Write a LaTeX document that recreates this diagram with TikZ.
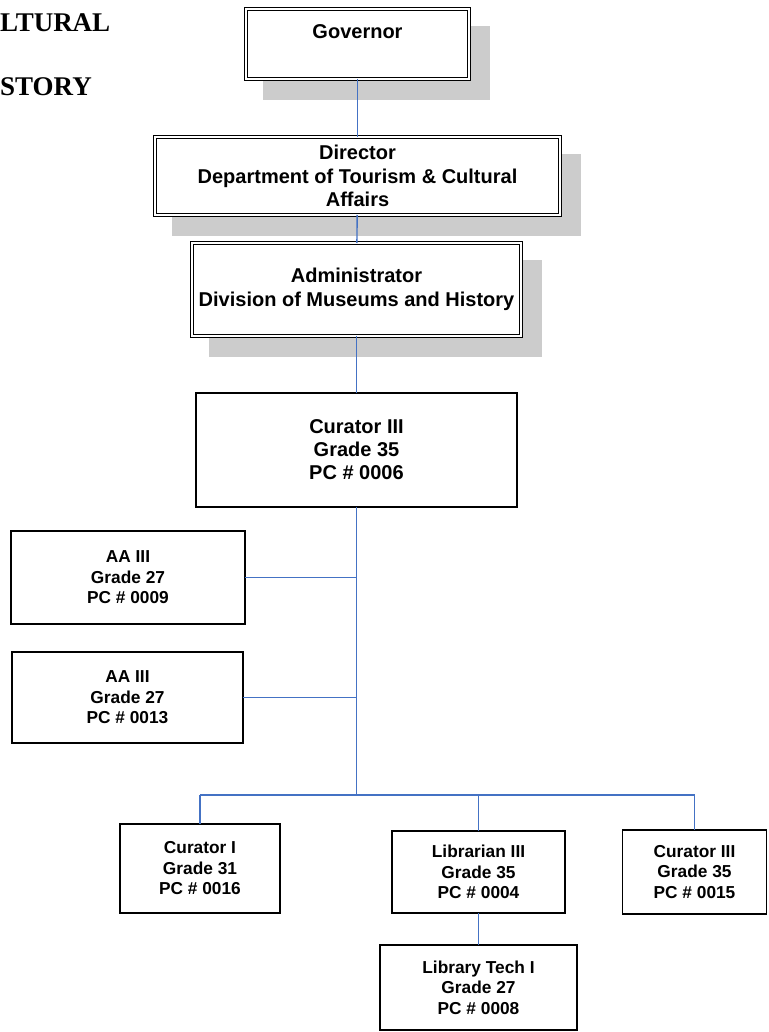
\documentclass[tikz,border=0pt]{standalone}
\usepackage{fontspec}
\setmainfont{Liberation Sans}
\newfontfamily\headfont{Liberation Serif}
\usetikzlibrary{backgrounds}

\definecolor{Link}{HTML}{4472C4}
\definecolor{Shade}{HTML}{CCCCCC}

\tikzset{
  chief/.style={draw, fill=white, double, double distance=2pt, line width=1pt, align=center,
    inner sep=0pt, outer sep=0pt, font=\bfseries\fontsize{20}{23.5}\selectfont},
  post/.style={draw, fill=white, line width=1.3pt, align=center, inner sep=0pt, outer sep=0pt,
    font=\bfseries\fontsize{17.3}{20.5}\selectfont},
  link/.style={draw=Link, line width=1.4pt},
}

\begin{document}
\begin{tikzpicture}[x=1pt, y=-1pt]

  \useasboundingbox (0,0) rectangle (768,1032);

  %%%%%%%%%% Heading, cut at the left %%%%%%%%%%
  \node (head1) [anchor=base west, inner sep=0pt, font=\headfont\bfseries\fontsize{27}{30}\selectfont] at (0,32) {LTURAL};
  \node (head2) [anchor=base west, inner sep=0pt, font=\headfont\bfseries\fontsize{27}{30}\selectfont] at (0,96) {STORY};

  %%%%%%%%%% Top of the chart %%%%%%%%%%
  \node (gov) [chief, minimum width=223, minimum height=70] at (357.5,44) {\rule{0pt}{20pt}Governor\\ \strut};
  \node (dir) [chief, minimum width=405, minimum height=78] at (357.5,176) {Director\\Department of Tourism \& Cultural\\Affairs};
  \node (adm) [chief, minimum width=329, minimum height=93] at (356.5,289.5) {Administrator\\Division of Museums and History};
  \node (cur) [post, font=\bfseries\fontsize{20}{23}\selectfont, minimum width=321, minimum height=114] at (356.5,450) {Curator III\\Grade 35\\PC \# 0006};

  %%%%%%%%%% Shadows %%%%%%%%%%
  \begin{scope}[on background layer]
    \foreach \n in {gov,dir,adm}
    {
      \fill [Shade] ([shift={(17,17)}]\n.north west) rectangle ([shift={(21,21)}]\n.south east);
    }
  \end{scope}

  %%%%%%%%%% Staff %%%%%%%%%%
  \node (aa1) [post, minimum width=234, minimum height=93] at (128,577.5) {AA III\\Grade 27\\PC \# 0009};
  \node (aa2) [post, line width=1.6pt, minimum width=231, minimum height=91] at (127.5,697.5) {AA III\\Grade 27\\PC \# 0013};

  \node (cur1) [post, minimum width=160, minimum height=89] at (200,868.5) {Curator I\\Grade 31\\PC \# 0016};
  \node (lib) [post, minimum width=173, minimum height=82] at (478.5,872) {Librarian III\\Grade 35\\PC \# 0004};
  \node (cur3) [post, minimum width=144.5, minimum height=84] at (694.5,872) {Curator III\\Grade 35\\PC \# 0015};
  \node (tech) [post, minimum width=197, minimum height=85] at (478.5,987.5) {Library Tech I\\Grade 27\\PC \# 0008};

  %%%%%%%%%% Lines %%%%%%%%%%
  \coordinate (hub) at (356.5,795);

  \draw [link] (gov) -- (dir);
  \draw [link] (dir) -- (adm);
  \draw [link] (adm) -- (cur);
  \draw [link] (cur) -- (hub);

  \draw [link] (aa1.east) -- (aa1.east -| hub);
  \draw [link] (aa2.east) -- (aa2.east -| hub);

  \draw [link] (cur1.north |- hub) -- (cur3.north |- hub);
  \foreach \n in {cur1,lib,cur3}
  {
    \draw [link] (\n.north |- hub) -- (\n.north);
  }
  \draw [link] (lib) -- (tech);

\end{tikzpicture}
\end{document}
